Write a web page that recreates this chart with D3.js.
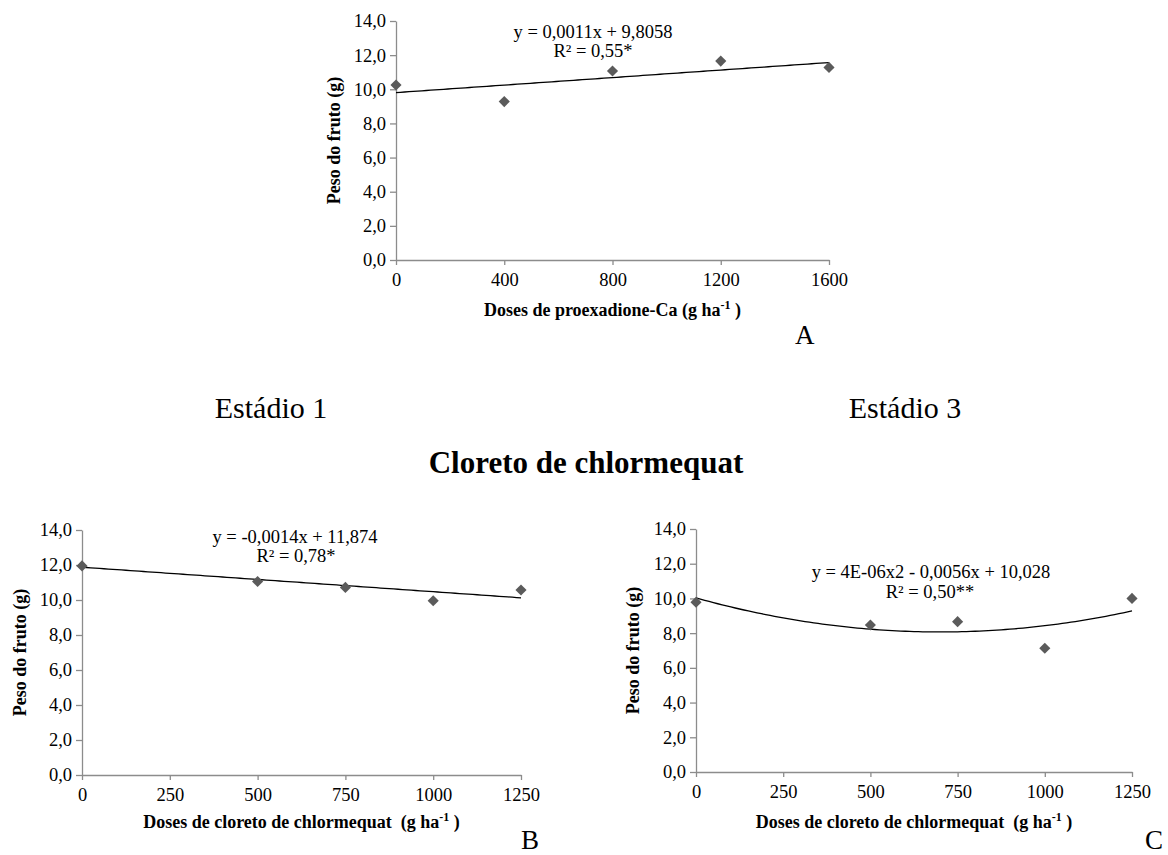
<!DOCTYPE html>
<html>
<head>
<meta charset="utf-8">
<script src="https://cdn.jsdelivr.net/npm/d3@7"></script>
<style>
  body { margin: 0; background: #fff; }
  svg text { font-family: "Liberation Serif", "Times New Roman", serif; }
</style>
</head>
<body>
<div class="graph"></div>
<script>

// data
var dosesA = [0, 400, 800, 1200, 1600];
var pesoA = [10.25, 9.28, 11.07, 11.65, 11.28];
var ticksA = [0, 400, 800, 1200, 1600];

var dosesBC = [0, 500, 750, 1000, 1250];
var pesoB = [11.95, 11.06, 10.72, 9.96, 10.57];
var pesoC = [9.78, 8.47, 8.66, 7.13, 10.0];
var ticksBC = [0, 250, 500, 750, 1000, 1250];

var ticksY = [0, 2, 4, 6, 8, 10, 12, 14];

// trend coefficients (a + b*x + c*x^2), from the equations on the chart
var coefA = [9.8058, 0.0011, 0];
var coefB = [11.874, -0.0014, 0];
var coefC = [10.028, -0.0056, 0.000004];

var eqA = ["y = 0,0011x + 9,8058", "R² = 0,55*"];
var eqB = ["y = -0,0014x + 11,874", "R² = 0,78*"];
var eqC = ["y = 4E-06x2 - 0,0056x + 10,028", "R² = 0,50**"];

var SERIF = "Liberation Serif";

var svg = d3.select(".graph")
  .append("svg")
    .attr("width", 1168)
    .attr("height", 855);

svg.append("rect").attr("width", 1168).attr("height", 855).attr("fill", "#fff");

function comma(d) { return d.toFixed(1).replace(".", ","); }

function drawPanel(p) {
  var x = d3.scaleLinear().domain([0, p.xmax]).range([p.left, p.right]);
  var y = d3.scaleLinear().domain([0, 14]).range([p.bottom, p.top]);

  var g = svg.append("g");

  // y axis
  g.append("g")
    .attr("transform", "translate(" + p.left + ",0)")
    .call(d3.axisLeft(y).tickValues(ticksY).tickFormat(comma).tickSize(6).tickSizeOuter(0).tickPadding(4));
  // x axis
  g.append("g")
    .attr("transform", "translate(0," + p.bottom + ")")
    .call(d3.axisBottom(x).tickValues(p.ticks).tickFormat(d3.format("d")).tickSize(5).tickSizeOuter(0).tickPadding(8));

  g.selectAll(".domain, .tick line").attr("stroke", "#8c8c8c").attr("stroke-width", 1.3);
  g.selectAll(".tick text")
    .attr("font-family", SERIF)
    .attr("font-size", 18.5)
    .attr("fill", "#000");

  // trend line
  var xs = d3.range(0, p.xmax + 1, p.xmax / 100);
  g.append("path")
    .datum(xs)
    .attr("fill", "none")
    .attr("stroke", "#000")
    .attr("stroke-width", 1.3)
    .attr("d", d3.line()
      .x(function(d) { return x(d); })
      .y(function(d) { return y(p.coef[0] + p.coef[1] * d + p.coef[2] * d * d); }));

  // points
  g.selectAll(".pt")
    .data(p.doses)
    .enter()
    .append("path")
      .attr("d", d3.symbol(d3.symbolSquare, 62))
      .attr("fill", "#5b5b5b")
      .attr("transform", function(d, i) {
        return "translate(" + x(d) + "," + y(p.peso[i]) + ") rotate(45)";
      });

  // equation
  g.selectAll(".eq")
    .data(p.eq)
    .enter()
    .append("text")
      .attr("x", function(d, i) { return p.eqX[i]; })
      .attr("y", function(d, i) { return p.eqY[i]; })
      .attr("text-anchor", "middle")
      .attr("font-family", SERIF)
      .attr("font-size", 18.5)
      .text(function(d) { return d; });

  // y title
  g.append("text")
    .attr("transform", "translate(" + p.ytX + "," + ((p.top + p.bottom) / 2) + ") rotate(-90)")
    .attr("text-anchor", "middle")
    .attr("dy", "0.35em")
    .attr("font-family", SERIF)
    .attr("font-weight", "bold")
    .attr("font-size", 18)
    .text("Peso do fruto (g)");

  // x title with superscript
  var xt = g.append("text")
    .attr("x", (p.left + p.right) / 2)
    .attr("y", p.xtY)
    .attr("text-anchor", "middle")
    .attr("font-family", SERIF)
    .attr("font-weight", "bold")
    .attr("font-size", 18)
    .attr("xml:space", "preserve");
  xt.append("tspan").text(p.xtitle + "(g ha");
  xt.append("tspan").attr("dy", -7).attr("font-size", 12).text("-1");
  xt.append("tspan").attr("dy", 7).text(" )");

  // panel letter
  svg.append("text")
    .attr("x", p.letterX)
    .attr("y", p.letterY)
    .attr("font-family", p.letterFont)
    .attr("font-size", 27)
    .text(p.letter);
}

drawPanel({
  left: 396, right: 829, top: 21, bottom: 260, xmax: 1600,
  ticks: ticksA, doses: dosesA, peso: pesoA, coef: coefA,
  eq: eqA, eqX: [593, 593], eqY: [38, 57],
  ytX: 334, xtY: 316, xtitle: "Doses de proexadione-Ca ",
  letter: "A", letterX: 795, letterY: 344, letterFont: "Liberation Sans"
});

drawPanel({
  left: 82, right: 521, top: 530, bottom: 775, xmax: 1250,
  ticks: ticksBC, doses: dosesBC, peso: pesoB, coef: coefB,
  eq: eqB, eqX: [295, 296], eqY: [543, 562],
  ytX: 20, xtY: 828, xtitle: "Doses de cloreto de chlormequat  ",
  letter: "B", letterX: 521, letterY: 849, letterFont: SERIF
});

drawPanel({
  left: 696, right: 1132, top: 529, bottom: 772, xmax: 1250,
  ticks: ticksBC, doses: dosesBC, peso: pesoC, coef: coefC,
  eq: eqC, eqX: [931, 930], eqY: [578, 598],
  ytX: 633, xtY: 828, xtitle: "Doses de cloreto de chlormequat  ",
  letter: "C", letterX: 1145, letterY: 849, letterFont: SERIF
});

// headings between panels
svg.append("text").attr("x", 271).attr("y", 418).attr("text-anchor", "middle")
  .attr("font-family", SERIF).attr("font-size", 30).text("Estádio 1");
svg.append("text").attr("x", 905).attr("y", 418).attr("text-anchor", "middle")
  .attr("font-family", SERIF).attr("font-size", 30).text("Estádio 3");
svg.append("text").attr("x", 586).attr("y", 473).attr("text-anchor", "middle")
  .attr("font-family", SERIF).attr("font-size", 31).attr("font-weight", "bold")
  .text("Cloreto de chlormequat");

</script>
</body>
</html>
